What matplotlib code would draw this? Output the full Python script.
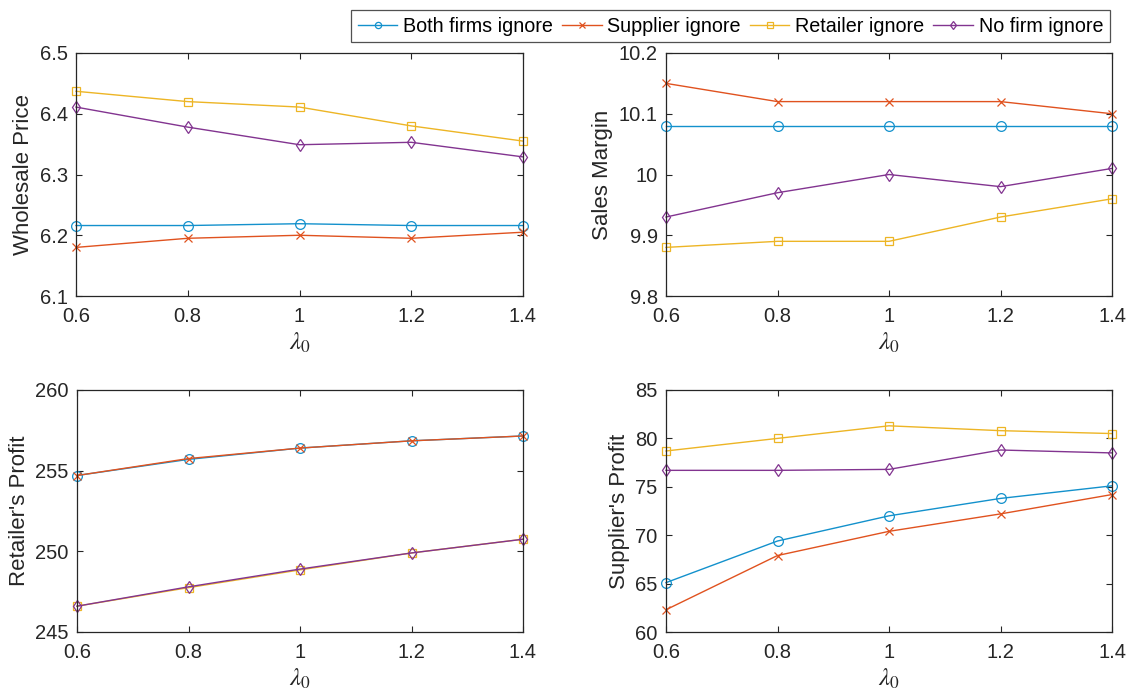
import matplotlib
matplotlib.use("Agg")
import matplotlib.pyplot as plt

plt.rcParams['font.family'] = ['Liberation Sans', 'DejaVu Sans']
plt.rcParams['mathtext.fontset'] = 'stix'

# lambda_0 values on the x axis
lam = [0.6, 0.8, 1.0, 1.2, 1.4]
series_names = ['Both firms ignore', 'Supplier ignore', 'Retailer ignore', 'No firm ignore']

# wholesale price
wp_both = [6.216, 6.216, 6.219, 6.216, 6.216]
wp_sup = [6.180, 6.195, 6.200, 6.195, 6.205]
wp_ret = [6.437, 6.420, 6.411, 6.380, 6.355]
wp_none = [6.411, 6.378, 6.349, 6.353, 6.329]

# sales margin
sm_both = [10.08, 10.08, 10.08, 10.08, 10.08]
sm_sup = [10.15, 10.12, 10.12, 10.12, 10.10]
sm_ret = [9.88, 9.89, 9.89, 9.93, 9.96]
sm_none = [9.93, 9.97, 10.00, 9.98, 10.01]

# retailer's profit
rp_both = [254.7, 255.7, 256.4, 256.85, 257.15]
rp_sup = [254.7, 255.75, 256.4, 256.85, 257.15]
rp_ret = [246.6, 247.75, 248.85, 249.9, 250.75]
rp_none = [246.6, 247.8, 248.9, 249.9, 250.75]

# supplier's profit
sp_both = [65.1, 69.4, 72.0, 73.8, 75.1]
sp_sup = [62.3, 67.9, 70.4, 72.2, 74.2]
sp_ret = [78.7, 80.0, 81.3, 80.8, 80.5]
sp_none = [76.7, 76.7, 76.8, 78.8, 78.5]

colors = ['#1391CC', '#E0521F', '#EDB525', '#823490']
markers = ['o', 'x', 's', 'd']
msizes = [7, 6, 5.5, 6.5]

panels = [
    ('Wholesale Price', [wp_both, wp_sup, wp_ret, wp_none], (6.1, 6.5), [6.1, 6.2, 6.3, 6.4, 6.5], ['6.1', '6.2', '6.3', '6.4', '6.5']),
    ('Sales Margin', [sm_both, sm_sup, sm_ret, sm_none], (9.8, 10.2), [9.8, 9.9, 10.0, 10.1, 10.2], ['9.8', '9.9', '10', '10.1', '10.2']),
    ("Retailer's Profit", [rp_both, rp_sup, rp_ret, rp_none], (245, 260), [245, 250, 255, 260], ['245', '250', '255', '260']),
    ("Supplier's Profit", [sp_both, sp_sup, sp_ret, sp_none], (60, 85), [60, 65, 70, 75, 80, 85], ['60', '65', '70', '75', '80', '85']),
]

W, H = 1129, 691
fig = plt.figure(figsize=(W / 100, H / 100), dpi=100)

# axes boxes in pixels: left, top, right, bottom
boxes = [(76, 53, 523, 296), (666, 53, 1112, 296),
         (77, 390, 523, 632), (666, 390, 1112, 632)]

handles = None
for (ylabel, data, ylim, yt, ytl), (l, t, r, b) in zip(panels, boxes):
    ax = fig.add_axes([l / W, 1 - b / H, (r - l) / W, (b - t) / H])
    hs = []
    for y, c, m, ms, name in zip(data, colors, markers, msizes, series_names):
        h, = ax.plot(lam, y, color=c, marker=m, markersize=ms, markerfacecolor='none',
                     markeredgewidth=0.9, linewidth=1.0, label=name, clip_on=False)
        hs.append(h)
    handles = hs
    ax.set_xlim(0.6, 1.4)
    ax.set_ylim(*ylim)
    ax.set_xticks(lam)
    ax.set_xticklabels(['0.6', '0.8', '1', '1.2', '1.4'])
    ax.set_yticks(yt)
    ax.set_yticklabels(ytl)
    ax.tick_params(direction='in', top=True, right=True, length=4, width=0.8,
                   labelsize=14.5, colors='#262626')
    ax.tick_params(axis='x', pad=8)
    ax.tick_params(axis='y', pad=6)
    for s in ax.spines.values():
        s.set_color('#262626')
        s.set_linewidth(0.9)
    ax.set_ylabel(ylabel, fontsize=16, color='#262626', labelpad=4)
    ax.set_xlabel(r'$\lambda_0$', fontsize=18, color='#262626', labelpad=3)

leg = fig.legend(handles, series_names, loc='center', ncol=4,
                 bbox_to_anchor=(345 / W, 1 - 43 / H, (1116 - 345) / W, 34 / H),
                 fontsize=14.2, frameon=True, fancybox=False,
                 handlelength=2.0, handletextpad=0.3, columnspacing=0.45,
                 borderaxespad=0, borderpad=0.35)
leg.get_frame().set_edgecolor('#262626')
leg.get_frame().set_linewidth(0.9)
for line in leg.get_lines():
    line.set_markersize(4.5)

fig.savefig('out.png', dpi=100)
